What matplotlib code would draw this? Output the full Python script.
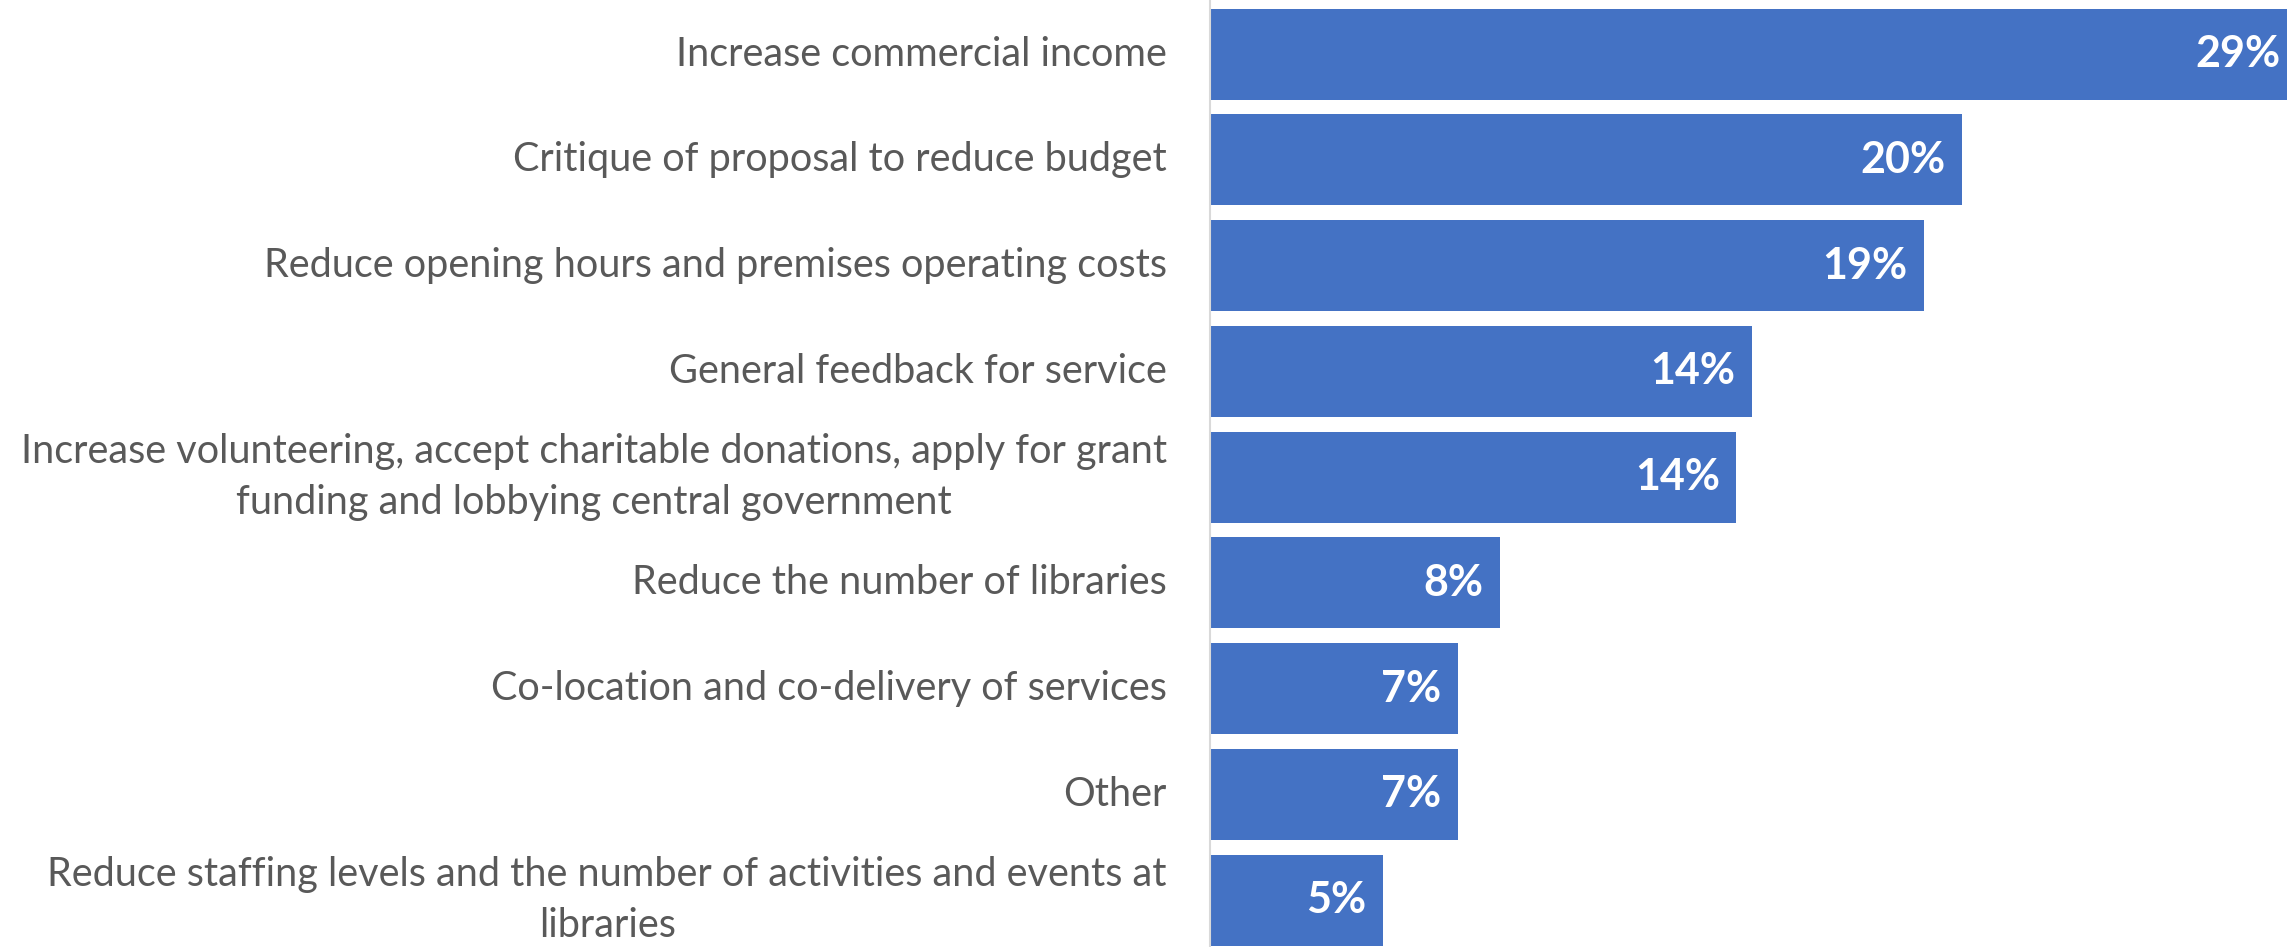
import matplotlib
matplotlib.use("Agg")
import matplotlib.pyplot as plt

# Share of responses per theme (labels are rounded to whole percent)
categories = [
    "Increase commercial income",
    "Critique of proposal to reduce budget",
    "Reduce opening hours and premises operating costs",
    "General feedback for service",
    "Increase volunteering, accept charitable donations, apply for grant\nfunding and lobbying central government",
    "Reduce the number of libraries",
    "Co-location and co-delivery of services",
    "Other",
    "Reduce staffing levels and the number of activities and events at\nlibraries",
]
shares = [28.9, 20.0, 19.0, 14.4, 14.0, 7.7, 6.6, 6.6, 4.6]

bar_color = "#4472C4"
label_color = "#595959"
font = "Lato"

fig = plt.figure(figsize=(22.87, 9.47), dpi=100)
ax = fig.add_axes([1210 / 2287, 0, 1 - 1210 / 2287, 1])

y = list(range(len(categories)))
bars = ax.barh(y, shares, height=0.86, color=bar_color)

ax.set_xlim(0, 28.64)
ax.set_ylim(8.444, -0.511)

for spine in ["top", "right", "bottom"]:
    ax.spines[spine].set_visible(False)
ax.spines["left"].set_color("#d9d9d9")
ax.spines["left"].set_linewidth(1.5)
ax.set_xticks([])
ax.set_yticks([])

# category names, right-aligned just left of the axis
for yi, name in zip(y, categories):
    ax.annotate(name, xy=(0, yi), xytext=(-31, 0), textcoords="offset points",
                ha="right", va="center", multialignment="center",
                fontsize=28.5, family=font, color=label_color,
                linespacing=1.45, annotation_clip=False)

# value labels inside the bar ends
for yi, v in zip(y, shares):
    ax.annotate(f"{v:.0f}%", xy=(v, yi), xytext=(-12, 0), textcoords="offset points",
                ha="right", va="center", fontsize=31, family=font,
                fontweight="bold", color="white", annotation_clip=False)

fig.savefig("out.png", dpi=100)
